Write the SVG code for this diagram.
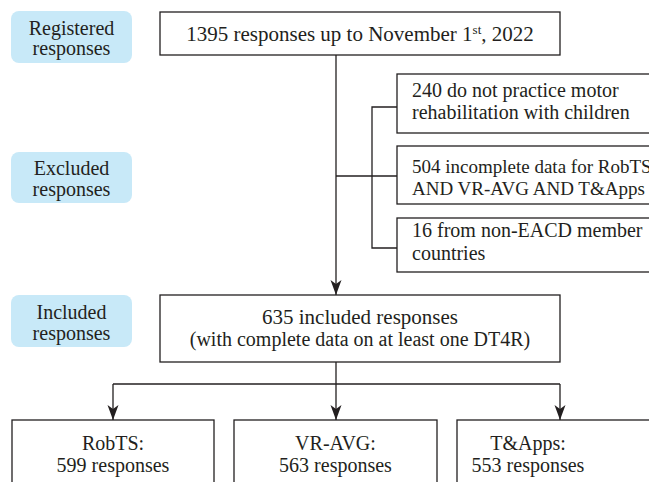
<svg xmlns="http://www.w3.org/2000/svg" width="649" height="482" viewBox="0 0 649 482">
<style>
.lbl{fill:#c8e9f8;stroke:none}
.box{fill:#fff;stroke:#231f20;stroke-width:1.3}
.t{font-family:"Liberation Serif","Times New Roman",serif;font-size:20px;fill:#231f20}
.big{font-size:21px}
.sm{font-size:19px}
.c{text-anchor:middle}
.ln{fill:none;stroke:#231f20;stroke-width:1.3}
</style>
<defs>
<marker id="ah" markerUnits="userSpaceOnUse" markerWidth="16" markerHeight="12" refX="15" refY="5.5" orient="auto">
<path d="M0,0 L15,5.5 L0,11 L4,5.5 Z" fill="#231f20"/>
</marker>
</defs>
<rect width="649" height="482" fill="#fff"/>
<g id="label-registered">
<rect class="lbl" x="11" y="11" width="121" height="52" rx="8"/>
<text class="t c" x="71.5" y="35">Registered</text>
<text class="t c" x="71.5" y="55">responses</text>
</g>
<g id="label-excluded">
<rect class="lbl" x="11" y="152" width="121" height="51" rx="8"/>
<text class="t c" x="71.5" y="175">Excluded</text>
<text class="t c" x="71.5" y="196">responses</text>
</g>
<g id="label-included">
<rect class="lbl" x="11" y="295" width="121" height="52" rx="8"/>
<text class="t c" x="71.5" y="319">Included</text>
<text class="t c" x="71.5" y="340">responses</text>
</g>
<g id="registered">
<rect class="box" x="160" y="12" width="400" height="43"/>
<text class="t big c" x="360" y="41">1395 responses up to November 1<tspan style="font-size:13px" dy="-7">st</tspan><tspan dy="7">, 2022</tspan></text>
</g>
<g id="excl-240">
<rect class="box" x="397" y="74" width="270" height="59"/>
<text class="t" x="412" y="97">240 do not practice motor</text>
<text class="t" x="412" y="119">rehabilitation with children</text>
</g>
<g id="excl-504">
<rect class="box" x="397" y="146" width="270" height="58"/>
<text class="t sm" x="412" y="173">504 incomplete data for RobTS</text>
<text class="t sm" x="412" y="195">AND VR-AVG AND T&amp;Apps</text>
</g>
<g id="excl-16">
<rect class="box" x="397" y="218" width="270" height="54"/>
<text class="t" x="412" y="237">16 from non-EACD member</text>
<text class="t" x="412" y="260">countries</text>
</g>
<g id="included">
<rect class="box" x="160" y="295" width="400" height="67"/>
<text class="t big c" x="360" y="324">635 included responses</text>
<text class="t c" x="360" y="346">(with complete data on at least one DT4R)</text>
</g>
<g id="robts">
<rect class="box" x="12" y="420" width="202" height="80"/>
<text class="t c" x="113" y="450">RobTS:</text>
<text class="t c" x="113" y="472">599 responses</text>
</g>
<g id="vravg">
<rect class="box" x="234" y="420" width="203" height="80"/>
<text class="t c" x="335.5" y="450">VR-AVG:</text>
<text class="t c" x="335.5" y="472">563 responses</text>
</g>
<g id="tapps">
<rect class="box" x="457" y="420" width="210" height="80"/>
<text class="t c" x="528" y="450">T&amp;Apps:</text>
<text class="t c" x="528" y="472">553 responses</text>
</g>
<g id="connectors">
<path class="ln" d="M336,55 V295" marker-end="url(#ah)"/>
<path class="ln" d="M336,176 H397"/>
<path class="ln" d="M397,107 H372 V248 H397"/>
<path class="ln" d="M336,362 V384"/>
<path class="ln" d="M113,384 H560"/>
<path class="ln" d="M113,384 V420" marker-end="url(#ah)"/>
<path class="ln" d="M336,384 V420" marker-end="url(#ah)"/>
<path class="ln" d="M560,384 V420" marker-end="url(#ah)"/>
</g>
</svg>
